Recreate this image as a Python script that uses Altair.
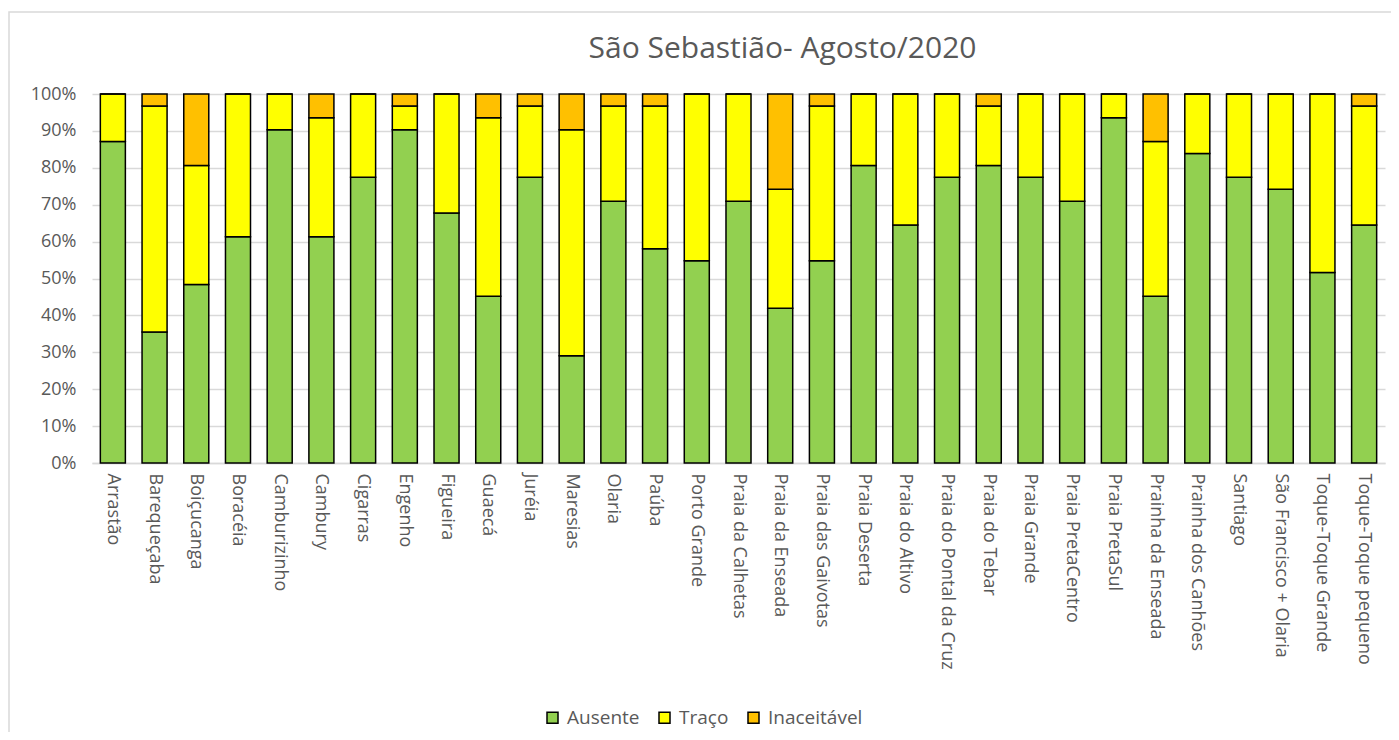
import altair as alt
import pandas as pd

praias = ["Arrastão", "Barequeçaba", "Boiçucanga", "Boracéia", "Camburizinho", "Cambury",
          "Cigarras", "Engenho", "Figueira", "Guaecá", "Juréia", "Maresias", "Olaria", "Paúba",
          "Porto Grande", "Praia da Calhetas", "Praia da Enseada", "Praia das Gaivotas",
          "Praia Deserta", "Praia do Altivo", "Praia do Pontal da Cruz", "Praia do Tebar",
          "Praia Grande", "Praia PretaCentro", "Praia PretaSul", "Prainha da Enseada",
          "Prainha dos Canhões", "Santiago", "São Francisco + Olaria", "Toque-Toque Grande",
          "Toque-Toque pequeno"]
ausente = [27, 11, 15, 19, 28, 19, 24, 28, 21, 14, 24, 9, 22, 18, 17, 22, 13, 17, 25, 20, 24, 25,
           24, 22, 29, 14, 26, 24, 23, 16, 20]
traco = [4, 19, 10, 12, 3, 10, 7, 2, 10, 15, 6, 19, 8, 12, 14, 9, 10, 13, 6, 11, 7, 5,
         7, 9, 2, 13, 5, 7, 8, 15, 10]
inaceitavel = [0, 1, 6, 0, 0, 2, 0, 1, 0, 2, 1, 3, 1, 1, 0, 0, 8, 1, 0, 0, 0, 1,
               0, 0, 0, 4, 0, 0, 0, 0, 1]

series = ["Ausente", "Traço", "Inaceitável"]
colors = ["#92d050", "#ffff00", "#ffc000"]

rows = []
for i, p in enumerate(praias):
    for k, (s, vals) in enumerate(zip(series, [ausente, traco, inaceitavel])):
        rows.append({"Praia": p, "Classe": s, "Valor": vals[i], "ordem": k})
df = pd.DataFrame(rows)

FONT = "Open Sans"
GRAY = "#595959"

bars = alt.Chart(df).mark_bar(stroke="black", strokeWidth=1.5).encode(
    x=alt.X("Praia:N", sort=praias, title=None,
            scale=alt.Scale(paddingInner=0.4, paddingOuter=0.2),
            axis=alt.Axis(labelAngle=90, labelAlign="left", labelBaseline="middle",
                          labelFontSize=18, labelColor=GRAY, labelFont=FONT,
                          ticks=False, domainColor="#d9d9d9", domainWidth=1.5,
                          labelPadding=10, labelLimit=400)),
    y=alt.Y("Valor:Q", stack="normalize", title=None,
            scale=alt.Scale(domain=[0, 1]),
            axis=alt.Axis(format=".0%", values=[i / 10 for i in range(11)],
                          labelFontSize=18, labelColor=GRAY, labelFont=FONT,
                          ticks=False, domain=False, gridColor="#d9d9d9", gridWidth=1.5,
                          labelPadding=16)),
    color=alt.Color("Classe:N", sort=series,
                    scale=alt.Scale(domain=series, range=colors),
                    legend=alt.Legend(title=None, orient="none", direction="horizontal",
                                      legendX=451, legendY=614,
                                      symbolType="square", symbolSize=121,
                                      symbolStrokeColor="black", symbolStrokeWidth=1.5,
                                      labelFontSize=19, labelColor=GRAY, labelFont=FONT,
                                      columnPadding=15, labelOffset=5)),
    order=alt.Order("ordem:Q", sort="ascending"),
)

frame = alt.Chart(pd.DataFrame({"a": [0]})).mark_rect(
    filled=False, stroke="#d9d9d9", strokeWidth=1.5
).encode(x=alt.value(-83), x2=alt.value(1420), y=alt.value(-82), y2=alt.value(700))

chart = alt.layer(frame, bars).properties(
    width=1293, height=369,
    title=alt.TitleParams("São Sebastião- Agosto/2020", fontSize=30, font=FONT,
                          color=GRAY, fontWeight="normal", anchor="middle", offset=-53, dx=44),
    autosize=alt.AutoSizeParams(type="none"),
    padding={"left": 84, "top": 86, "right": 6, "bottom": 269},
).configure_view(stroke=None)

chart.save("out.html", embed_options={"renderer": "svg", "actions": False})
